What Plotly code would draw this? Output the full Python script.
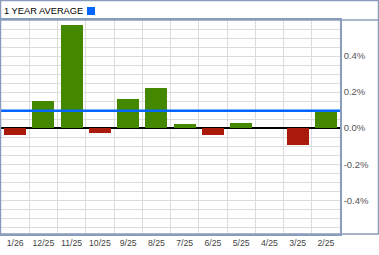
import plotly.graph_objects as go

labels = ["1/26", "12/25", "11/25", "10/25", "9/25", "8/25", "7/25", "6/25", "5/25", "4/25", "3/25", "2/25"]
values = [-0.037, 0.152, 0.574, -0.024, 0.163, 0.224, 0.024, -0.036, 0.026, 0.0, -0.091, 0.092]
average = 0.097
y_ticks = [-0.4, -0.2, 0.0, 0.2, 0.4]
y_tick_labels = ["-0.4%", "-0.2%", "0.0%", "0.2%", "0.4%"]
title_text = "1 YEAR AVERAGE"

GREEN = "#448800"
RED = "#aa1a0a"
BLUE = "#0066ff"
BORDER = "#8a9cbc"
GRID = "#dcdcdc"

W, H = 379, 255
ML, MR, MT, MB = 1, 39, 20, 21
pw = W - ML - MR
ph = H - MT - MB

xpos = list(range(len(labels)))
colors = [GREEN if v >= 0 else RED for v in values]

fig = go.Figure()
fig.add_trace(go.Bar(x=xpos, y=values, marker=dict(color=colors, line=dict(width=0)),
                     width=0.78, hoverinfo="skip"))
fig.add_hline(y=average, line=dict(color=BLUE, width=2.5), layer="above")

fig.update_layout(
    width=W, height=H, autosize=False,
    margin=dict(l=ML, r=MR, t=MT, b=MB, pad=0),
    paper_bgcolor="white", plot_bgcolor="white",
    showlegend=False,
    bargap=0,
    font=dict(family="Arial, Liberation Sans, sans-serif", size=9, color="#444444"),
    xaxis=dict(
        range=[-0.5, len(labels) - 0.5],
        tickmode="array", tickvals=xpos, ticktext=labels,
        tickangle=0, automargin=False,
        showgrid=False, zeroline=False,
        ticks="", ticklen=0,
        tickfont=dict(size=8.7, color="#444444"),
        showline=True, linecolor=BORDER, linewidth=1.5, mirror=True,
        minor=dict(tick0=0.5, dtick=1, showgrid=True, gridcolor=GRID, gridwidth=1.3, ticks=""),
        fixedrange=True,
    ),
    yaxis=dict(
        range=[-0.587, 0.6], side="right", automargin=False,
        tickmode="array", tickvals=y_ticks, ticktext=y_tick_labels,
        showgrid=True, gridcolor=GRID, gridwidth=1.3,
        zeroline=True, zerolinecolor="black", zerolinewidth=1.5,
        ticks="", ticklen=0,
        tickfont=dict(size=9.5, color="#555555"),
        showline=True, linecolor=BORDER, linewidth=1.5, mirror=True,
        minor=dict(tick0=0, dtick=0.05, showgrid=True, gridcolor=GRID, gridwidth=1.3, ticks=""),
        fixedrange=True,
    ),
)

# outer frame and title bar (layout decoration, in paper coordinates)
def px_x(x):
    return (x - ML) / pw

def px_y(y):
    return (H - MB - y) / ph

fig.add_shape(type="rect", xref="paper", yref="paper",
              x0=px_x(0.5), x1=px_x(378.5), y0=px_y(234), y1=px_y(0.5),
              line=dict(color=BORDER, width=1.5), layer="above")
fig.add_shape(type="line", xref="paper", yref="paper",
              x0=px_x(0.5), x1=px_x(378.5), y0=px_y(20), y1=px_y(20),
              line=dict(color=BORDER, width=1.5), layer="above")
fig.add_annotation(text=title_text, xref="paper", yref="paper",
                   x=px_x(2), y=px_y(11), xanchor="left", yanchor="middle",
                   showarrow=False, font=dict(size=9.3, color="black"))
fig.add_shape(type="rect", xref="paper", yref="paper",
              x0=px_x(87), x1=px_x(95), y0=px_y(15), y1=px_y(7),
              fillcolor=BLUE, line=dict(width=0), layer="above")

fig.write_html("out.html", config={"displayModeBar": False})
